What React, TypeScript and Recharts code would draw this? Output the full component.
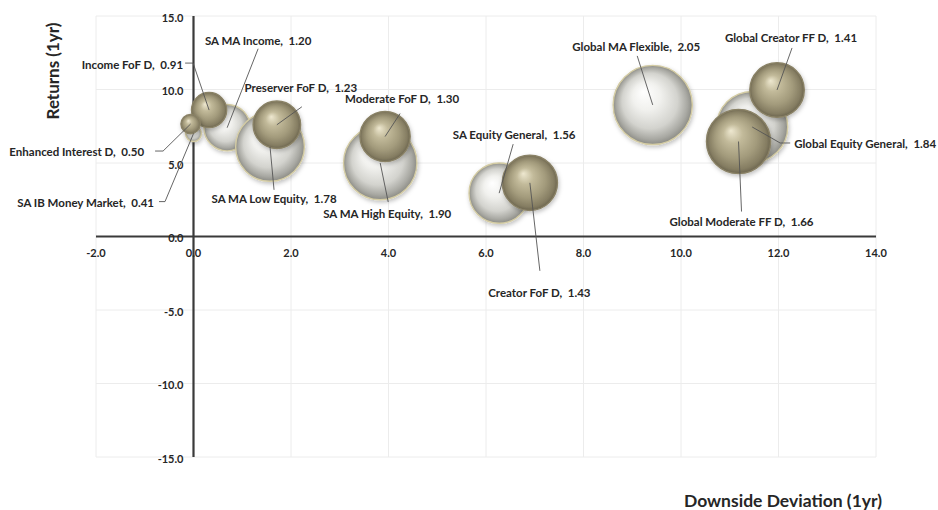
import {
  ScatterChart,
  Scatter,
  XAxis,
  YAxis,
  ZAxis,
  CartesianGrid,
  ReferenceLine,
  ReferenceDot,
} from "recharts";

// sector averages (silver bubbles)
const sectorNames = [
  "SA MA Income",
  "SA IB Money Market",
  "SA MA Low Equity",
  "SA MA High Equity",
  "SA Equity General",
  "Global MA Flexible",
  "Global Equity General",
];
const sectorDownside = [0.69, 0.0, 1.57, 3.83, 6.27, 9.42, 11.46];
const sectorReturns = [7.4, 7.0, 6.1, 5.0, 2.95, 8.95, 7.45];
const sectorSize = [1.2, 0.41, 1.78, 1.9, 1.56, 2.05, 1.84];

// funds (gold bubbles)
const fundNames = [
  "Income FoF D",
  "Enhanced Interest D",
  "Preserver FoF D",
  "Moderate FoF D",
  "Creator FoF D",
  "Global Creator FF D",
  "Global Moderate FF D",
];
const fundDownside = [0.32, -0.06, 1.71, 3.93, 6.9, 11.97, 11.18];
const fundReturns = [8.6, 7.65, 7.6, 6.8, 3.65, 9.97, 6.46];
const fundSize = [0.91, 0.5, 1.23, 1.3, 1.43, 1.41, 1.66];

const xTicks = [-2, 0, 2, 4, 6, 8, 10, 12, 14];
const yTicks = [-15, -10, -5, 0, 5, 10, 15];

const sectors = sectorNames.map((name, i) => ({
  name,
  x: sectorDownside[i],
  y: sectorReturns[i],
  size: sectorSize[i],
}));
const funds = fundNames.map((name, i) => ({
  name,
  x: fundDownside[i],
  y: fundReturns[i],
  size: fundSize[i],
}));

// label placement relative to the bubble centre
type LabelPos = {
  dx: number;
  dy: number;
  anchor: "start" | "middle" | "end";
  leader: [number, number][];
};
const labelLayout: Record<string, LabelPos> = {
  "SA MA Income": { dx: 31, dy: -87, anchor: "middle", leader: [[31, -79]] },
  "SA IB Money Market": { dx: -39.5, dy: 69, anchor: "end", leader: [[-28.5, 68], [-34.5, 68]] },
  "SA MA Low Equity": { dx: 4, dy: 52, anchor: "middle", leader: [[4, 43]] },
  "SA MA High Equity": { dx: 7, dy: 50, anchor: "middle", leader: [[8, 39]] },
  "SA Equity General": { dx: 15, dy: -59, anchor: "middle", leader: [[14, -49]] },
  "Global MA Flexible": { dx: -16.5, dy: -58, anchor: "middle", leader: [[-15.5, -49]] },
  "Global Equity General": { dx: 42, dy: 17, anchor: "start", leader: [[28, 16], [38, 16]] },
  "Income FoF D": { dx: -26, dy: -46, anchor: "end", leader: [[-16, -47], [-24, -47]] },
  "Enhanced Interest D": { dx: -46.5, dy: 27, anchor: "end", leader: [[-27.5, 27], [-35.5, 27]] },
  "Preserver FoF D": { dx: 24, dy: -37, anchor: "middle", leader: [[25, -18]] },
  "Moderate FoF D": { dx: 17, dy: -38, anchor: "middle", leader: [[15, -23]] },
  "Creator FoF D": { dx: 9.5, dy: 110, anchor: "middle", leader: [[10, 88]] },
  "Global Creator FF D": { dx: 14, dy: -52, anchor: "middle", leader: [[15, -42]] },
  "Global Moderate FF D": { dx: 3, dy: 80, anchor: "middle", leader: [[3, 70]] },
};

const FONT = "Lato, 'Open Sans', sans-serif";

const Ball = (gradient: string, rim: string) => (props: any) => {
  const { cx, cy, size } = props;
  return (
    <circle
      cx={cx}
      cy={cy}
      r={size}
      fill={`url(#${gradient})`}
      stroke={rim}
      strokeWidth={1.4}
      filter="url(#ballShadow)"
    />
  );
};

const BubbleLabel = (props: any) => {
  const { cx, cy, payload } = props;
  const l = labelLayout[payload.name];
  if (!l) return null;
  const pts = [[0, 0] as [number, number], ...l.leader]
    .map(([dx, dy]) => `${cx + dx},${cy + dy}`)
    .join(" ");
  return (
    <g>
      <polyline points={pts} fill="none" stroke="#555" strokeWidth={0.9} />
      <text
        x={cx + l.dx}
        y={cy + l.dy}
        textAnchor={l.anchor}
        dominantBaseline="central"
        fontFamily={FONT}
        fontWeight={700}
        fontSize={11.5}
        fill="#262626"
        style={{ whiteSpace: "pre" }}
      >
        {`${payload.name},  ${payload.size.toFixed(2)}`}
      </text>
    </g>
  );
};

const tickText = {
  fontFamily: FONT,
  fontWeight: 700,
  fontSize: 11,
  fill: "#262626",
};

export default function App() {
  return (
    <div style={{ position: "absolute", left: 0, top: 0, width: 938, height: 510, background: "#fff", overflow: "hidden" }}>
      <svg width={0} height={0} style={{ position: "absolute" }}>
        <defs>
          <radialGradient id="silverBall" cx="0.5" cy="0.5" r="0.5" fx="0.38" fy="0.33">
            <stop offset="0" stopColor="#ffffff" />
            <stop offset="0.35" stopColor="#f1f1ee" />
            <stop offset="0.7" stopColor="#d3d3ce" />
            <stop offset="0.9" stopColor="#a8a8a2" />
            <stop offset="1" stopColor="#8c8c86" />
          </radialGradient>
          <radialGradient id="goldBall" cx="0.5" cy="0.5" r="0.5" fx="0.38" fy="0.33">
            <stop offset="0" stopColor="#eee8d0" />
            <stop offset="0.3" stopColor="#c2ba9a" />
            <stop offset="0.65" stopColor="#a39b7c" />
            <stop offset="0.9" stopColor="#857d62" />
            <stop offset="1" stopColor="#6c654f" />
          </radialGradient>
          <filter id="ballShadow" x="-30%" y="-30%" width="160%" height="160%">
            <feDropShadow dx="1" dy="2" stdDeviation="2" floodColor="#000" floodOpacity="0.25" />
          </filter>
        </defs>
      </svg>
      <ScatterChart width={938} height={510} margin={{ top: 16, right: 62, bottom: 53, left: 96 }}>
        <CartesianGrid stroke="#ececec" strokeWidth={1} />
        <XAxis type="number" dataKey="x" domain={[-2, 14]} ticks={xTicks} hide />
        <YAxis type="number" dataKey="y" domain={[-15, 15]} ticks={yTicks} hide />
        <ZAxis type="number" dataKey="size" domain={[0, 2]} range={[0, 39.6]} />
        {xTicks.map((t) => (
          <ReferenceDot
            key={`xt${t}`}
            x={t}
            y={0}
            r={0}
            fill="none"
            stroke="none"
            label={{
              content: (p: any) => (
                <text x={p.viewBox.x} y={p.viewBox.y + 16} textAnchor="middle" dominantBaseline="central" {...tickText}>
                  {t.toFixed(1)}
                </text>
              ),
            }}
          />
        ))}
        {yTicks.map((t) => (
          <ReferenceDot
            key={`yt${t}`}
            x={0}
            y={t}
            r={0}
            fill="none"
            stroke="none"
            label={{
              content: (p: any) => (
                <text x={p.viewBox.x - 10} y={p.viewBox.y + 1} textAnchor="end" dominantBaseline="central" {...tickText}>
                  {t.toFixed(1)}
                </text>
              ),
            }}
          />
        ))}
        <ReferenceLine y={0} stroke="#3a3a3a" strokeWidth={2.2} />
        <ReferenceLine x={0} stroke="#3a3a3a" strokeWidth={2.2} />
        <Scatter name="Sector" data={sectors} shape={Ball("silverBall", "#d4cca4")} isAnimationActive={false} />
        <Scatter name="Fund" data={funds} shape={Ball("goldBall", "#8a8266")} isAnimationActive={false} />
        <Scatter name="Labels" data={[...sectors, ...funds]} shape={BubbleLabel} isAnimationActive={false} />
      </ScatterChart>
      <div
        style={{
          position: "absolute",
          left: 52,
          top: 71,
          transform: "translate(-50%, -50%) rotate(-90deg)",
          fontFamily: FONT,
          fontWeight: 700,
          fontSize: 17,
          lineHeight: "17px",
          color: "#262626",
          whiteSpace: "nowrap",
        }}
      >
        Returns (1yr)
      </div>
      <div
        style={{
          position: "absolute",
          left: 783,
          top: 492,
          transform: "translateX(-50%)",
          fontFamily: FONT,
          fontWeight: 700,
          fontSize: 17.5,
          lineHeight: "17px",
          color: "#262626",
          whiteSpace: "nowrap",
        }}
      >
        Downside Deviation (1yr)
      </div>
    </div>
  );
}
